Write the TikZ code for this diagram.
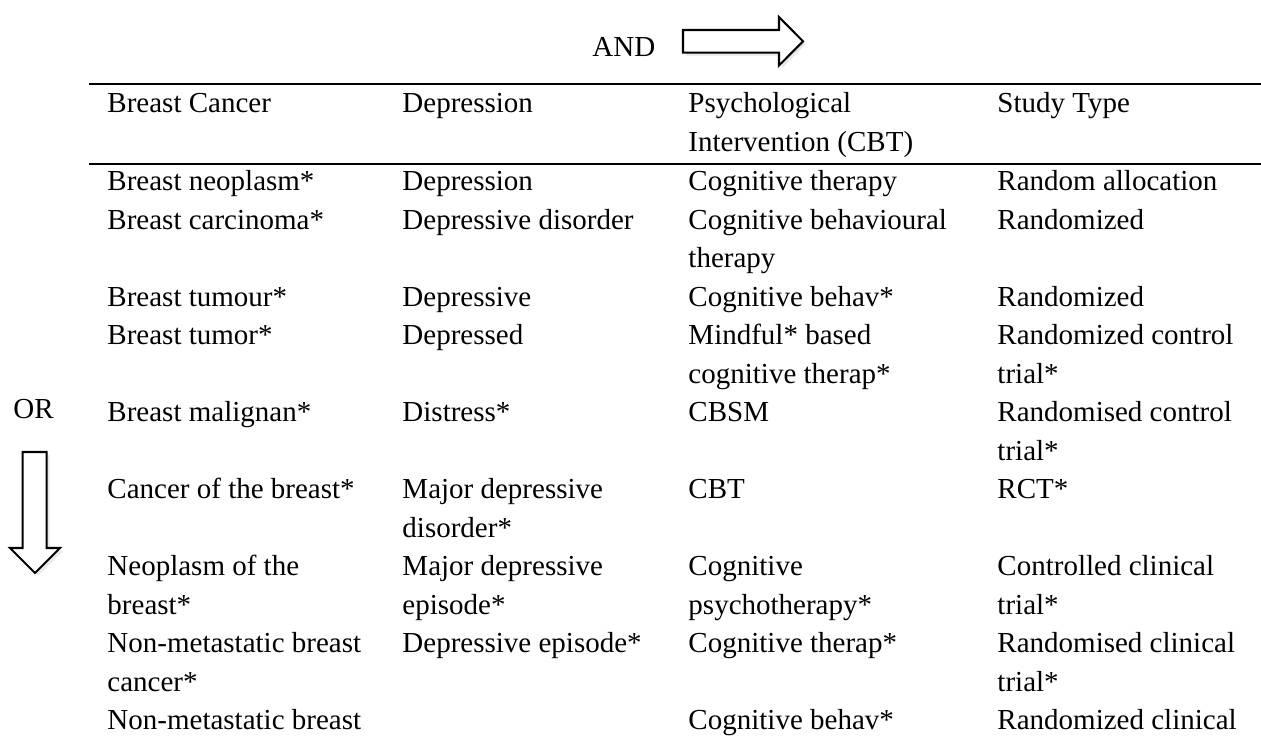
\documentclass[tikz,border=0pt]{standalone}
\usepackage{fontspec}
\setmainfont{Liberation Serif}
\usetikzlibrary{shadows}

\begin{document}
\begin{tikzpicture}[
    x=0.4138pt,y=-0.4138pt,
    cell/.style={anchor=base west,inner sep=0pt,text width=125pt,align=flush left,font=\fontsize{12}{15.93}\selectfont},
    rule/.style={line width=0.85pt},
    fatarrow/.style={draw=black,line width=0.85pt,fill=white,line join=miter,drop shadow={opacity=0.18,shadow xshift=1.2pt,shadow yshift=-1.2pt}}
  ]
    \useasboundingbox (0,0) rectangle (1261,738);
    % labels and the two big arrows
    \node[cell,text width=30pt] (andlbl) at (592,56.7) {AND};
    \node[cell,text width=20pt] (orlbl) at (13,418) {OR};
    \draw[fatarrow] (683,30) -- (779,30) -- (779,17) -- (803,41.3) -- (779,65.5) -- (779,52.7) -- (683,52.7) -- cycle;
    \draw[fatarrow] (22.7,452) -- (46.7,452) -- (46.7,548) -- (60,548) -- (35,573) -- (10,548) -- (22.7,548) -- cycle;
    % table rules
    \draw[rule] (89,84.3) -- (1261,84.3);
    \draw[rule] (89,164) -- (1261,164);
    % header
    \node[cell] (bchd) at (107,112.7) {Breast Cancer};
    \node[cell] (dephd) at (402,112.7) {Depression};
    \node[cell] (psyhd) at (688,112.7) {Psychological\\Intervention (CBT)};
    \node[cell] (sthd) at (997,112.7) {Study Type};
    % breast cancer terms
    \node[cell] (bc1) at (107,190.5) {Breast neoplasm*};
    \node[cell] (bc2) at (107,229) {Breast carcinoma*};
    \node[cell] (bc3) at (107,306) {Breast tumour*};
    \node[cell] (bc4) at (107,344.5) {Breast tumor*};
    \node[cell] (bc5) at (107,421.5) {Breast malignan*};
    \node[cell] (bc6) at (107,498.5) {Cancer of the breast*};
    \node[cell] (bc7) at (107,575.5) {Neoplasm of the\\breast*};
    \node[cell] (bc8) at (107,652.5) {Non-metastatic breast\\cancer*};
    \node[cell] (bc9) at (107,729.5) {Non-metastatic breast};
    % depression terms
    \node[cell] (dep1) at (402,190.5) {Depression};
    \node[cell] (dep2) at (402,229) {Depressive disorder};
    \node[cell] (dep3) at (402,306) {Depressive};
    \node[cell] (dep4) at (402,344.5) {Depressed};
    \node[cell] (dep5) at (402,421.5) {Distress*};
    \node[cell] (dep6) at (402,498.5) {Major depressive\\disorder*};
    \node[cell] (dep7) at (402,575.5) {Major depressive\\episode*};
    \node[cell] (dep8) at (402,652.5) {Depressive episode*};
    % intervention terms
    \node[cell] (psy1) at (688,190.5) {Cognitive therapy};
    \node[cell] (psy2) at (688,229) {Cognitive behavioural\\therapy};
    \node[cell] (psy3) at (688,306) {Cognitive behav*};
    \node[cell] (psy4) at (688,344.5) {Mindful* based\\cognitive therap*};
    \node[cell] (psy5) at (688,421.5) {CBSM};
    \node[cell] (psy6) at (688,498.5) {CBT};
    \node[cell] (psy7) at (688,575.5) {Cognitive\\psychotherapy*};
    \node[cell] (psy8) at (688,652.5) {Cognitive therap*};
    \node[cell] (psy9) at (688,729.5) {Cognitive behav*};
    % study types
    \node[cell] (st1) at (997,190.5) {Random allocation};
    \node[cell] (st2) at (997,229) {Randomized};
    \node[cell] (st3) at (997,306) {Randomized};
    \node[cell] (st4) at (997,344.5) {Randomized control\\trial*};
    \node[cell] (st5) at (997,421.5) {Randomised control\\trial*};
    \node[cell] (st6) at (997,498.5) {RCT*};
    \node[cell] (st7) at (997,575.5) {Controlled clinical\\trial*};
    \node[cell] (st8) at (997,652.5) {Randomised clinical\\trial*};
    \node[cell] (st9) at (997,729.5) {Randomized clinical};
  \end{tikzpicture}
\end{document}
